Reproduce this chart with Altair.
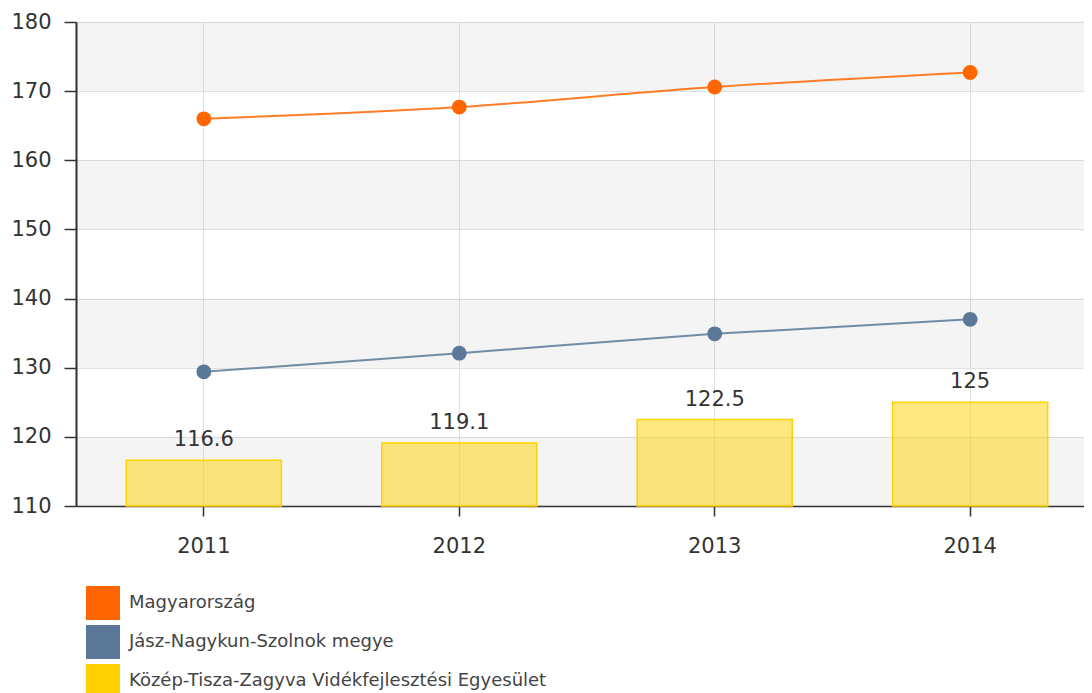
import altair as alt
import pandas as pd

years = ["2011", "2012", "2013", "2014"]
series_names = ["Magyarország", "Jász-Nagykun-Szolnok megye",
                "Közép-Tisza-Zagyva Vidékfejlesztési Egyesület"]
hu_values = [166.0, 167.7, 170.6, 172.7]
jnsz_values = [129.4, 132.1, 134.9, 137.0]
ktz_values = [116.6, 119.1, 122.5, 125]
ktz_labels = ["116.6", "119.1", "122.5", "125"]
colors = ["#FF6600", "#5B7899", "#FFD200"]
stripe_lo = [110, 130, 150, 170]
stripe_hi = [120, 140, 160, 180]

lines_df = pd.DataFrame({
    "year": years * 2,
    "value": hu_values + jnsz_values,
    "series": [series_names[0]] * 4 + [series_names[1]] * 4,
})
bars_df = pd.DataFrame({
    "year": years,
    "value": ktz_values,
    "label": ktz_labels,
    "series": [series_names[2]] * 4,
})
stripes_df = pd.DataFrame({"lo": stripe_lo, "hi": stripe_hi})

FONT = "DejaVu Sans"
# the plot area runs past the right edge of the page, as in the reference
xscale = alt.Scale(type="band", domain=years, range=[0, 1022],
                   paddingInner=0.393, paddingOuter=0.197)
yscale = alt.Scale(domain=[110, 180], nice=False, zero=False)
cscale = alt.Scale(domain=series_names, range=colors)

x_axis = alt.Axis(title=None, bandPosition=0.5, grid=True, gridColor="#e2e2e2",
                  labelFontSize=21, labelFont=FONT, labelColor="#333",
                  tickSize=10, tickColor="#333", tickWidth=1.5,
                  domainColor="#333", domainWidth=1.5, labelPadding=19, labelAngle=0)
y_axis = alt.Axis(title=None, values=[110, 120, 130, 140, 150, 160, 170, 180],
                  grid=True, gridColor="#e2e2e2",
                  labelFontSize=21, labelFont=FONT, labelColor="#333",
                  tickSize=12, tickColor="#333", tickWidth=1.5,
                  domainColor="#333", domainWidth=2, labelPadding=13)

stripes = alt.Chart(stripes_df).mark_rect(color="#000", opacity=0.043).encode(
    x=alt.value(0), x2=alt.value(1022),
    y=alt.Y("lo:Q", scale=yscale, axis=y_axis), y2="hi:Q",
)

bars = alt.Chart(bars_df).mark_bar(fillOpacity=0.5, stroke="#FFD200", strokeWidth=1.5).encode(
    x=alt.X("year:N", scale=xscale, axis=x_axis),
    y=alt.Y("value:Q", scale=yscale),
    y2=alt.datum(110),
    color=alt.Color("series:N", scale=cscale, legend=alt.Legend(
        title=None, orient="none", legendX=10, legendY=564, direction="vertical",
        symbolType="square", symbolSize=1156, symbolStrokeWidth=0, symbolOpacity=1,
        labelFontSize=18, labelFont=FONT, labelColor="#444", labelLimit=800,
        rowPadding=5, labelOffset=9, padding=0)),
)

labels = alt.Chart(bars_df).mark_text(dy=-14, baseline="alphabetic", fontSize=21,
                                      font=FONT, color="#333").encode(
    x=alt.X("year:N", scale=xscale),
    y=alt.Y("value:Q", scale=yscale),
    text="label:N",
)

lines = alt.Chart(lines_df).mark_line(interpolate="monotone", strokeWidth=2, opacity=0.85).encode(
    x=alt.X("year:N", scale=xscale),
    y=alt.Y("value:Q", scale=yscale),
    color=alt.Color("series:N", scale=cscale, legend=None),
    detail="series:N",
)

points = alt.Chart(lines_df).mark_circle(size=220, opacity=1).encode(
    x=alt.X("year:N", scale=xscale),
    y=alt.Y("value:Q", scale=yscale),
    color=alt.Color("series:N", scale=cscale, legend=None),
)

chart = alt.layer(stripes, bars, labels, lines, points).properties(
    width=1008, height=484,
    autosize=alt.AutoSizeParams(type="none"),
    padding={"left": 68, "top": 14, "right": 0, "bottom": 200},
).configure_view(strokeWidth=0)

chart.save("out.html", embed_options={"renderer": "svg", "actions": False})
